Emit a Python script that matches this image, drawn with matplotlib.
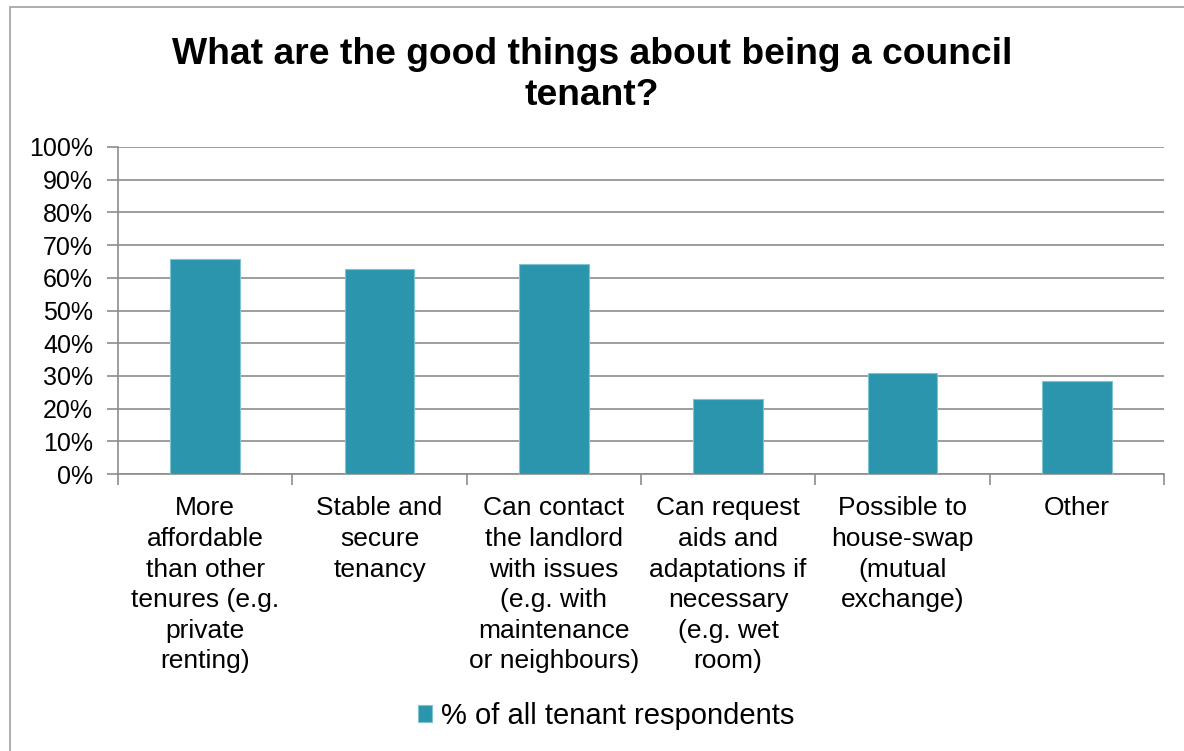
import matplotlib
matplotlib.use('Agg')
import matplotlib.pyplot as plt
import matplotlib.patches as patches
from matplotlib.ticker import FixedLocator, NullFormatter

plt.rcParams['font.family'] = ['Liberation Sans', 'DejaVu Sans']

TITLE = 'What are the good things about being a council\ntenant?'
SERIES = '% of all tenant respondents'
categories = [
    'More\naffordable\nthan other\ntenures (e.g.\nprivate\nrenting)',
    'Stable and\nsecure\ntenancy',
    'Can contact\nthe landlord\nwith issues\n(e.g. with\nmaintenance\nor neighbours)',
    'Can request\naids and\nadaptations if\nnecessary\n(e.g. wet\nroom)',
    'Possible to\nhouse-swap\n(mutual\nexchange)',
    'Other',
]
values = [65.7, 62.6, 64.2, 22.8, 30.8, 28.4]
yticks = list(range(0, 101, 10))

BAR_COLOR = '#2B95AE'
GRID = '#8c8c8c'

fig = plt.figure(figsize=(11.84, 7.51), dpi=100)
# outer chart frame
fig.patches.append(patches.Rectangle((10 / 1184, -0.01), 1.02, 1 - 7 / 751 + 0.01,
                                     transform=fig.transFigure, fill=False,
                                     edgecolor='#a0a0a0', linewidth=1.2))

ax = fig.add_axes([118 / 1184, 1 - 474 / 751, (1164 - 118) / 1184, (474 - 147) / 751])
x = list(range(len(values)))
ax.bar(x, values, width=0.4, color=BAR_COLOR, edgecolor='#7fc3d3', linewidth=0.8,
       zorder=3, label=SERIES)

ax.set_xlim(-0.5, len(values) - 0.5)
ax.set_ylim(0, 100)
ax.set_yticks(yticks)
ax.set_yticklabels([f'{t}%' for t in yticks])
ax.yaxis.grid(True, color=GRID, linewidth=1.2, zorder=0)
ax.tick_params(axis='y', length=8, width=1.2, color=GRID, labelsize=18, pad=10)

# category labels at centres, tick marks at boundaries
ax.set_xticks(x)
ax.set_xticklabels(categories, fontsize=19, linespacing=1.35, va='top')
ax.tick_params(axis='x', which='major', length=0, pad=16)
ax.xaxis.set_minor_locator(FixedLocator([i - 0.5 for i in range(len(values) + 1)]))
ax.xaxis.set_minor_formatter(NullFormatter())
ax.tick_params(axis='x', which='minor', length=8, width=1.2, color=GRID)

for side in ['top', 'right']:
    ax.spines[side].set_visible(False)
for side in ['left', 'bottom']:
    ax.spines[side].set_color(GRID)
    ax.spines[side].set_linewidth(1.2)

fig.text(0.5, 1 - 75 / 751, TITLE, ha='center', va='center', fontsize=26.8,
         fontweight='bold', linespacing=1.25)

fig.legend(loc='center', bbox_to_anchor=(606 / 1184, 1 - 716 / 751), frameon=False,
           fontsize=21, handlelength=0.5, handleheight=0.5, handletextpad=0.3)

fig.savefig('out.png', dpi=100)
